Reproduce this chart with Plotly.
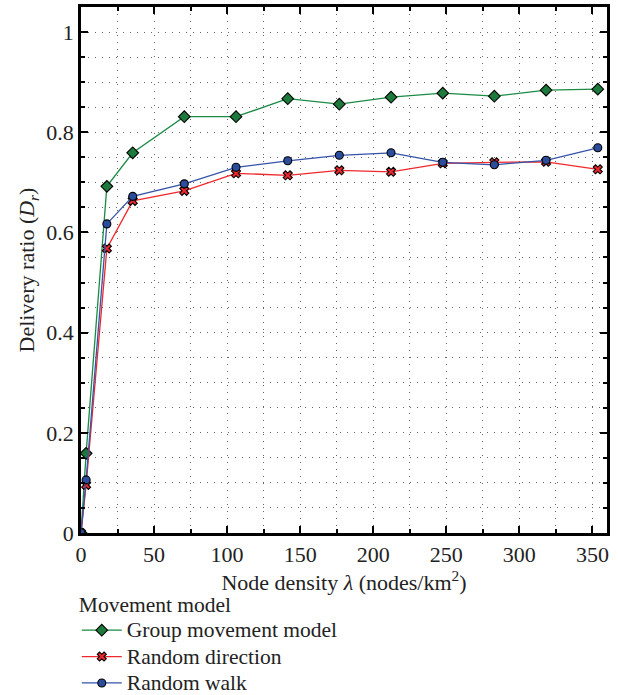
import plotly.graph_objects as go

density = [0, 3.5, 17.7, 35.4, 70.7, 106.1, 141.5, 176.8, 212.2, 247.6, 282.9, 318.3, 353.7]
group_movement = [0, 0.159, 0.692, 0.759, 0.831, 0.831, 0.867, 0.856, 0.870, 0.878, 0.872, 0.884, 0.886]
random_direction = [0, 0.096, 0.568, 0.663, 0.683, 0.718, 0.714, 0.724, 0.721, 0.738, 0.740, 0.741, 0.726]
random_walk = [0, 0.106, 0.617, 0.672, 0.697, 0.730, 0.743, 0.754, 0.759, 0.740, 0.735, 0.744, 0.769]
series_names = ["Group movement model", "Random direction", "Random walk"]

x_ticks = [0, 50, 100, 150, 200, 250, 300, 350]
y_ticks = [0, 0.2, 0.4, 0.6, 0.8, 1]
y_tick_labels = ["0", "0.2", "0.4", "0.6", "0.8", "1"]

FONT = "Liberation Serif"


def legend_label(text):
    return "<span style='font-size:21.5px'>" + text + "</span>"


fig = go.Figure()
fig.add_trace(go.Scatter(
    x=density, y=group_movement, name=legend_label(series_names[0]), mode="lines+markers",
    line=dict(color="#1b8a45", width=1.3),
    marker=dict(symbol="diamond", size=9, color="#1e7a3c", line=dict(color="black", width=1.1)),
))
fig.add_trace(go.Scatter(
    x=density, y=random_direction, name=legend_label(series_names[1]), mode="lines+markers",
    line=dict(color="#f0282c", width=1.3),
    marker=dict(symbol="x", size=8, color="#e8282c", line=dict(color="black", width=1.1)),
))
fig.add_trace(go.Scatter(
    x=density, y=random_walk, name=legend_label(series_names[2]), mode="lines+markers",
    line=dict(color="#3553a8", width=1.3),
    marker=dict(symbol="circle", size=8, color="#2c4c9c", line=dict(color="black", width=1.1)),
))

grid_dot = "1px,6px"
fig.update_layout(
    width=618, height=695,
    margin=dict(l=81, r=11, t=7, b=162, autoexpand=False),
    paper_bgcolor="white", plot_bgcolor="white",
    font=dict(family=FONT, size=18, color="#222"),
    xaxis=dict(
        range=[0, 360], tickvals=x_ticks, automargin=False,
        ticks="inside", ticklen=7, tickwidth=2, tickcolor="black",
        showline=True, linecolor="black", linewidth=2.5, mirror="allticks",
        showgrid=True, gridcolor="#666", gridwidth=1, griddash=grid_dot,
        zeroline=False,
        tickfont=dict(size=22, family=FONT, color="#222"),
        minor=dict(dtick=25, ticks="inside", ticklen=4, tickwidth=1.5, tickcolor="black",
                   showgrid=True, gridcolor="#666", gridwidth=1, griddash=grid_dot),
        title=dict(text="Node density <i>λ</i> (nodes/km<sup>2</sup>)", font=dict(size=22, family=FONT), standoff=5),
    ),
    yaxis=dict(
        range=[0, 1.05], tickvals=y_ticks, ticktext=y_tick_labels, automargin=False,
        ticks="inside", ticklen=7, tickwidth=2, tickcolor="black",
        showline=True, linecolor="black", linewidth=2.5, mirror="allticks",
        showgrid=True, gridcolor="#666", gridwidth=1, griddash=grid_dot,
        zeroline=False,
        tickfont=dict(size=22, family=FONT, color="#222"),
        minor=dict(dtick=0.05, ticks="inside", ticklen=4, tickwidth=1.5, tickcolor="black",
                   showgrid=True, gridcolor="#666", gridwidth=1, griddash=grid_dot),
        title=dict(text="Delivery ratio (<i>D<sub>r</sub></i>)", font=dict(size=22, family=FONT), standoff=6),
    ),
    legend=dict(
        title=dict(text="Movement model", font=dict(size=21.5, family=FONT), side="top"),
        x=-0.008, xanchor="left", y=-0.097, yanchor="top",
        orientation="v", font=dict(size=18, family=FONT, color="#222"),
        bgcolor="rgba(0,0,0,0)", tracegroupgap=0, itemwidth=40,
    ),
    showlegend=True,
)

fig.write_html("out.html")
